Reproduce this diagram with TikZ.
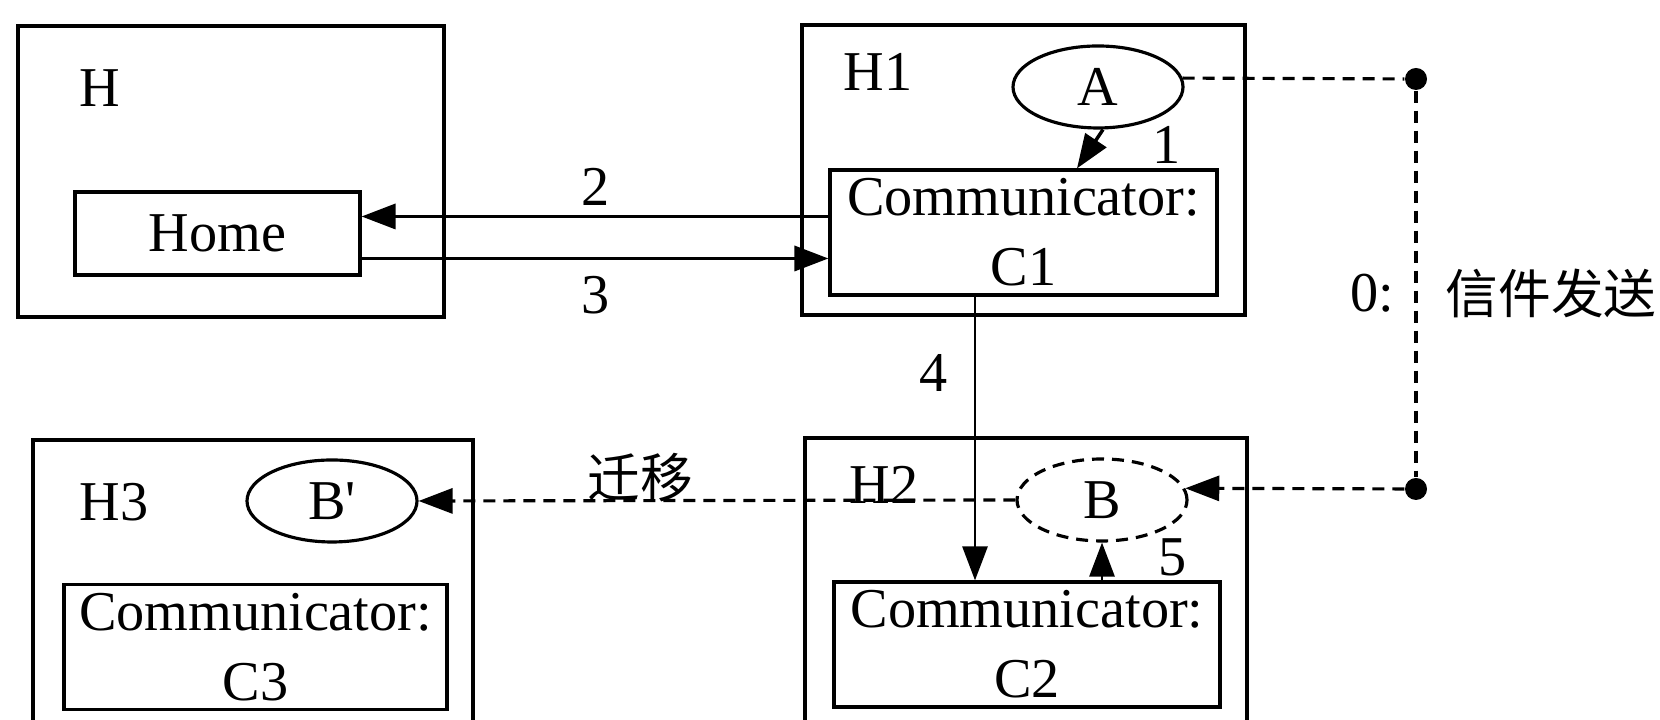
\documentclass[tikz,border=0pt]{standalone}
\usepackage{fontspec}
\setmainfont{Liberation Serif}[Ligatures=TeXOff]
\newfontfamily\cjk{Noto Sans CJK SC}
\usetikzlibrary{arrows.meta, positioning, calc, shapes.geometric}

\begin{document}
\begin{tikzpicture}[
    >={Triangle[length=3.4mm, width=2.5mm]},
    font=\fontsize{16}{20}\selectfont,
    hostbox/.style={draw, line width=0.9pt, inner sep=0pt},
    commbox/.style={draw, line width=0.9pt, align=center, inner sep=0pt, minimum height=1.25cm},
    agentnode/.style={ellipse, draw, line width=0.9pt, minimum width=1.7cm, minimum height=0.82cm, inner sep=0pt},
    dotnode/.style={circle, fill=black, minimum size=2.2mm, inner sep=0pt},
    msgline/.style={->, line width=1pt},
    dashline/.style={line width=0.9pt, dash pattern=on 1.2mm off 0.8mm}
]
\useasboundingbox (0,0) rectangle (16.6,7.2);
\clip (0,0) rectangle (16.6,7.2);

% Hosts
\node[hostbox, minimum width=4.26cm, minimum height=2.91cm] (hostH) at (2.31,5.485) {};
\node[hostbox, minimum width=4.43cm, minimum height=2.90cm] (hostHone) at (10.235,5.50) {};
\node[hostbox, minimum width=4.42cm, minimum height=3.12cm] (hostHtwo) at (10.26,1.26) {};
\node[hostbox, minimum width=4.40cm, minimum height=3.10cm] (hostHthree) at (2.53,1.25) {};

% Host labels
\node (labH) at (1.00,6.32) {H};
\node (labHone) at (8.78,6.48) {H1};
\node (labHtwo) at (8.84,2.35) {H2};
\node (labHthree) at (1.14,2.18) {H3};

% Home and communicators
\node[hostbox, minimum width=2.85cm, minimum height=0.83cm] (Home) at (2.175,4.865) {Home};
\node[commbox, minimum width=3.87cm] (C1) at (10.235,4.875) {Communicator:\\C1};
\node[commbox, minimum width=3.86cm] (C2) at (10.27,0.755) {Communicator:\\C2};
\node[commbox, minimum width=3.83cm] (C3) at (2.555,0.73) {Communicator:\\C3};

% Agents
\node[agentnode] (A) at (10.98,6.33) {A};
\node[agentnode, dashline] (B) at (11.02,2.20) {B};
\node[agentnode] (Bp) at (3.32,2.19) {B'};

% Letter posting
\node[dotnode] (dotTop) at (14.16,6.41) {};
\node[dotnode] (dotBot) at (14.16,2.31) {};
\node (zero) at (13.72,4.27) {0:};
\node[font=\cjk\fontsize{15}{18}\selectfont] (post) at (15.51,4.27) {信件发送};

% Step labels
\node (one) at (11.67,5.75) {1};
\node (two) at (5.96,5.33) {2};
\node (three) at (5.96,4.25) {3};
\node (four) at (9.34,3.47) {4};
\node (five) at (11.73,1.63) {5};
\node[font=\cjk\fontsize{15}{18}\selectfont] (move) at (6.40,2.42) {迁移};

% Messages
\draw[msgline] ($(A.south)+(0.05,0)$) -- ($(C1.north)+(0.535,0)$);
\draw[msgline] ([yshift=1.6mm]C1.west) -- ([yshift=1.6mm]C1.west -| Home.east);
\draw[msgline] ([yshift=-2.5mm]Home.east) -- ([yshift=-2.5mm]Home.east -| C1.west);
\draw[msgline, line width=0.8pt] ([xshift=-4.85mm]C1.south) -- ([xshift=-4.85mm]C1.south |- C2.north);
\draw[msgline, line width=0.8pt] (B.south |- C2.north) -- (B.south);

% Dashed paths
\draw[dashline] (A.6) -- (dotTop);
\draw[dashline] (dotTop) -- (dotBot);
\draw[dashline, ->] (dotBot) -- (B.8);
\draw[dashline, ->] (B.west) -- (Bp.east);

\end{tikzpicture}
\end{document}
